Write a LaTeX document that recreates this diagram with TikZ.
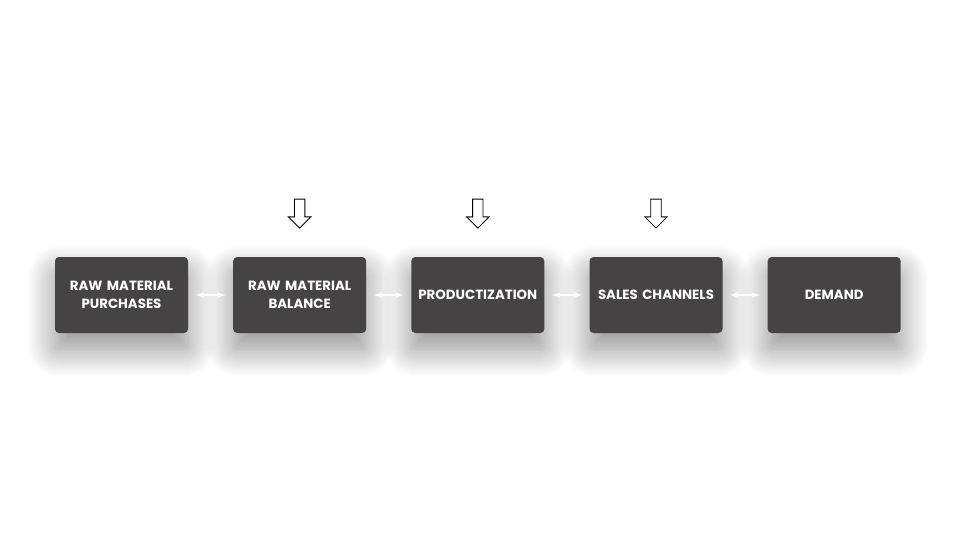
\documentclass[tikz,border=0pt]{standalone}
\usepackage{fontspec}
\setmainfont{Poppins}
\usepackage{tikz}
\usetikzlibrary{shapes, arrows, shadows.blur, positioning}
\definecolor{boxgray}{HTML}{464344}
\tikzstyle{block} = [rectangle, fill=boxgray, text=white, font=\fontsize{9.5}{12.5}\selectfont\bfseries,
    text width=3.1cm, inner xsep=0.1125cm, align=center, rounded corners=0.1cm, minimum width=3.325cm, minimum height=1.9cm,
    blur shadow={shadow xshift=0cm, shadow yshift=-0.4cm, shadow blur radius=0.7cm, shadow blur steps=30, shadow opacity=45}]
\tikzstyle{link} = [draw, white, line width=1.2pt, latex'-latex', shorten >=0.18cm, shorten <=0.18cm]
\tikzstyle{pointer} = [single arrow, draw, line width=0.6pt, shape border rotate=270, inner sep=0.12cm,
    single arrow head extend=0.15cm, minimum height=0.725cm, fill=white]

\begin{document}
\begin{tikzpicture}[node distance = 1.115cm, auto]
      \useasboundingbox (0,0) rectangle (24,13.5);
      % chain of blocks
      \node [block] (purchases) at (3.0375,6.125) {RAW MATERIAL\\PURCHASES};
      \node [block, right= of purchases] (balance) {RAW MATERIAL\\BALANCE};
      \node [block, right= of balance] (productization) {PRODUCTIZATION};
      \node [block, right= of productization] (channels) {SALES CHANNELS};
      \node [block, right= of channels] (demand) {DEMAND};
      % inputs from above
      \node [pointer, above=0.7cm of balance] (in-balance) {};
      \node [pointer, above=0.7cm of productization] (in-productization) {};
      \node [pointer, above=0.7cm of channels] (in-channels) {};
      % Draw edges
      \path [link] (purchases) -- (balance);
      \path [link] (balance) -- (productization);
      \path [link] (productization) -- (channels);
      \path [link] (channels) -- (demand);
  \end{tikzpicture}
\end{document}
